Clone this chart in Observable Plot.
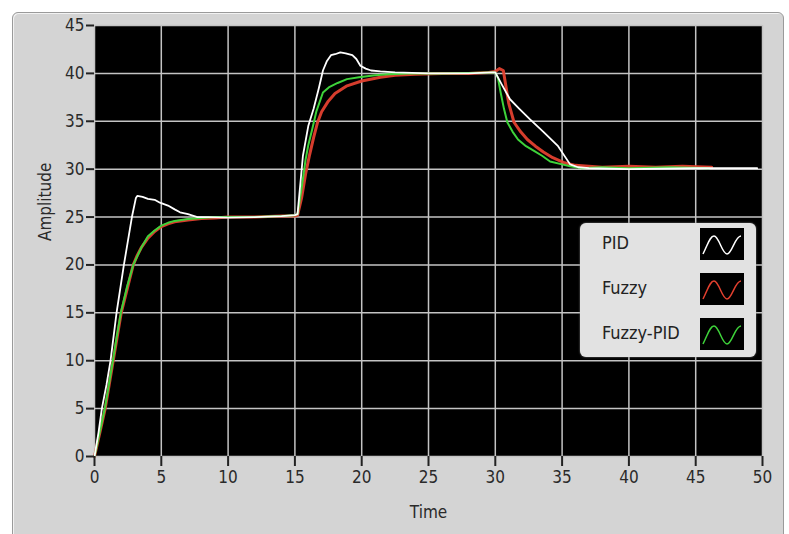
<!DOCTYPE html>
<html>
<head>
<meta charset="utf-8">
<script src="https://cdn.jsdelivr.net/npm/d3@7"></script>
<script src="https://cdn.jsdelivr.net/npm/@observablehq/plot@0.6"></script>
<style>
  html, body { margin: 0; padding: 0; background: #ffffff; }
  #wrap { position: relative; width: 789px; height: 534px; overflow: hidden; font-family: "Liberation Sans Narrow", "DejaVu Sans Condensed", "Liberation Sans", sans-serif; }
  #panel { position: absolute; left: 12px; top: 12px; width: 770px; height: 530px; background: #d4d4d4; border: 1px solid #9a9a9a; border-radius: 6px; box-shadow: inset 1px 1px 0 #f2f2f2; }
  #chart { position: absolute; left: 0; top: 0; }
  #legend { position: absolute; left: 580px; top: 223px; width: 176px; height: 134px; background: #e2e2e2; border-radius: 6px; box-shadow: 0 0 2px #888; }
  .row { position: absolute; left: 0; width: 176px; height: 32px; }
  .row span { position: absolute; left: 22px; top: 4px; font-size: 18px; color: #222; }
  .row svg { position: absolute; left: 120px; top: 0; }
</style>
</head>
<body>
<div id="wrap">
  <div id="panel"></div>
  <div id="chart"></div>
  <div id="legend"></div>
</div>
<script>
// ---- data ----
const xTicks = [0, 5, 10, 15, 20, 25, 30, 35, 40, 45, 50];
const yTicks = [0, 5, 10, 15, 20, 25, 30, 35, 40, 45];
const seriesNames = ["PID", "Fuzzy", "Fuzzy-PID"];
const seriesColors = ["#ffffff", "#e2402f", "#3ed23a"];

const pidT = [0,0.3,0.55,0.9,1.2,1.65,2.2,2.8,3.1,3.2,3.6,4.0,4.5,4.9,5.5,6.0,6.4,7.0,7.7,8.5,10,12,14,15.0,15.2,15.6,16.0,16.4,16.8,17.1,17.4,17.7,18.0,18.4,18.8,19.3,19.6,19.9,20.3,20.7,21.4,22.5,25,28,29.8,30.0,30.5,31.1,31.8,32.6,33.6,34.7,35.6,36.2,37,40,45,49.6];
const pidV = [0,2.5,5,7.5,10,15,20,25,27,27.2,27.1,26.9,26.8,26.5,26.2,25.8,25.5,25.3,25.0,25,24.95,25,25.1,25.2,25.3,31.4,34.5,36.3,38.5,40.3,41.3,41.9,42.0,42.2,42.1,41.9,41.5,40.8,40.5,40.3,40.2,40.1,40,40,40.1,40.1,38.8,37.3,36.3,35.2,33.9,32.4,30.5,30.2,30.1,30.0,30.1,30.1];

const fuzzyT = [0,0.4,0.8,1.1,1.4,1.7,2.0,2.45,2.9,3.2,3.5,4.0,4.5,5.0,5.5,6,7,8,9,10,11,12,14,15.0,15.2,15.5,15.8,16.1,16.4,16.7,17.0,17.5,18,18.9,20,21.4,22.5,24,26,28,29.5,30.0,30.3,30.6,30.8,31.0,31.4,31.9,32.4,33.0,33.6,34.3,35.1,36,37,38,40,42,44,46.2];
const fuzzyV = [0,2.5,5,7.5,10,12.5,15,17.5,20,21,21.8,22.8,23.5,24,24.3,24.5,24.7,24.85,24.9,25,25,25,25.1,25.1,25.2,27,29.5,31.5,33.3,34.9,36,37.1,37.9,38.7,39.2,39.6,39.8,39.9,40,40,40.1,40.2,40.5,40.3,38.6,36.9,34.9,33.9,33.1,32.4,31.8,31.2,30.7,30.4,30.3,30.2,30.3,30.2,30.3,30.2];

const fpidT = [0,0.4,0.8,1.1,1.4,1.7,2.0,2.45,2.9,3.1,3.5,4,4.5,5,5.5,6,7,8,9,10,12,14,15,15.2,15.5,15.8,16.0,16.3,16.6,17.1,17.6,18.2,18.9,19.8,21,22,23.5,26,28,29.8,30.0,30.2,30.4,30.65,30.9,31.3,31.7,32.3,32.9,33.5,34.1,35,35.6,36.5,38,40,43,46];
const fpidV = [0,2.6,5.2,7.7,10.2,12.8,15.2,17.8,20,20.6,21.8,23,23.6,24.1,24.4,24.6,24.8,24.9,25,25,25,25.1,25.2,25.3,28,31,32.5,34.2,36,38,38.6,39,39.4,39.6,39.8,39.9,40,40,40.05,40.1,40.1,39.5,38,36.3,34.9,33.9,33.1,32.4,31.9,31.4,30.8,30.5,30.3,30.1,30.2,30.1,30.2,30.1];

const toRows = (ts, vs) => ts.map((t, i) => ({t, v: vs[i]}));
const pid = toRows(pidT, pidV);
const fuzzy = toRows(fuzzyT, fuzzyV);
const fpid = toRows(fpidT, fpidV);

const chart = Plot.plot({
  width: 789,
  height: 534,
  marginLeft: 94,
  marginRight: 27,
  marginTop: 25,
  marginBottom: 78,
  style: { background: "transparent", fontSize: "17px", fontFamily: "'Liberation Sans Narrow', 'DejaVu Sans Condensed', 'Liberation Sans', sans-serif", color: "#2a2a2a" },
  x: { domain: [0, 50] },
  y: { domain: [0, 45] },
  marks: [
    Plot.frame({ fill: "#000000", stroke: null }),
    Plot.gridX(xTicks, { stroke: "#c4c4c4", strokeOpacity: 1, strokeWidth: 1.5 }),
    Plot.gridY(yTicks, { stroke: "#c4c4c4", strokeOpacity: 1, strokeWidth: 1.5 }),
    Plot.line(fuzzy, { x: "t", y: "v", stroke: seriesColors[1], strokeWidth: 3, strokeOpacity: 0.95 }),
    Plot.line(fpid, { x: "t", y: "v", stroke: seriesColors[2], strokeWidth: 2 }),
    Plot.line(pid, { x: "t", y: "v", stroke: seriesColors[0], strokeWidth: 1.8 }),
    Plot.axisX(xTicks, { tickSize: 10, tickPadding: 4, label: null, stroke: "#222", strokeWidth: 2 }),
    Plot.axisY(yTicks, { tickSize: 8, tickPadding: 2, label: null, stroke: "#222", strokeWidth: 2 }),
    Plot.text(["Time"], { frameAnchor: "bottom", dy: 61, fontSize: 17, fill: "#2a2a2a" }),
    Plot.text(["Amplitude"], { frameAnchor: "left", dx: -49, rotate: -90, fontSize: 17, fill: "#2a2a2a" })
  ]
});
document.getElementById("chart").appendChild(chart);

// ---- legend ----
const legend = document.getElementById("legend");
const tops = [5, 50, 95];
seriesNames.forEach((name, i) => {
  const row = document.createElement("div");
  row.className = "row";
  row.style.top = tops[i] + "px";
  const label = document.createElement("span");
  label.textContent = name;
  row.appendChild(label);
  const sw = d3.create("svg").attr("width", 44).attr("height", 32);
  sw.append("rect").attr("width", 44).attr("height", 32).attr("fill", "#000");
  sw.append("path")
    .attr("d", "M3,26 C8,16 10,8 14,8 C19,8 22,26 27,26 C32,26 35,8 41,8")
    .attr("fill", "none").attr("stroke", seriesColors[i]).attr("stroke-width", 1.5);
  row.appendChild(sw.node());
  legend.appendChild(row);
});
</script>
</body>
</html>
